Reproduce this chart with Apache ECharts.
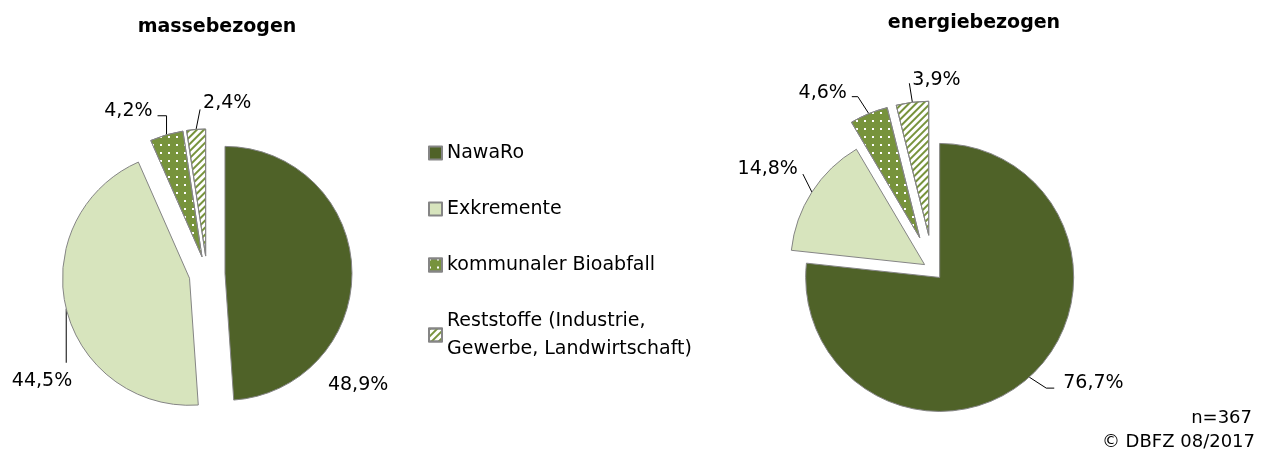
<!DOCTYPE html>
<html>
<head>
<meta charset="utf-8">
<script src="https://cdn.jsdelivr.net/npm/echarts@6/dist/echarts.min.js"></script>
<style>
  html, body { margin: 0; padding: 0; background: #fff; }
  #chart { width: 1271px; height: 453px; }
</style>
</head>
<body>
<div id="chart"></div>
<script>
  const categories = ['NawaRo', 'Exkremente', 'kommunaler Bioabfall', 'Reststoffe (Industrie,\nGewerbe, Landwirtschaft)']
  const masseValues = [48.9, 44.5, 4.2, 2.4]
  const energieValues = [76.7, 14.8, 4.6, 3.9]
  const sampleSize = 367
  const source = '© DBFZ 08/2017'

  const font = 'DejaVu Sans'
  const border = '#858585'
  const sliceStyles = [
    {color: '#4F6228'},
    {color: '#D7E4BD'},
    {color: '#77933C', decal: {symbol: 'rect', symbolSize: 1, color: '#ffffff', dashArrayX: [2, 6], dashArrayY: [2, 6]}},
    {color: '#ffffff', decal: {symbol: 'rect', symbolSize: 1, color: '#77933C', dashArrayX: [1, 0], dashArrayY: [2, 2.5], rotation: -Math.PI / 4}}
  ]

  // leader line (relative to the slice's outer mid point) and label anchor, like Excel placed them
  const masseGuides = [
    {label: [-24, 116], align: 'left'},
    {line: [[0, 0], [0, 54]], label: [6, 72], align: 'right'},
    {line: [[0, 0], [0, -19], [-9, -19]], label: [-14, -24], align: 'right'},
    {line: [[0, 0], [4, -20]], label: [7, -26], align: 'left'}
  ]
  const energieGuides = [
    {line: [[0, 0], [17, 11], [25, 11]], label: [34, 6], align: 'left'},
    {line: [[0, 0], [-9, -18]], label: [-14, -23], align: 'right'},
    {line: [[0, 0], [-11, -17], [-17, -17]], label: [-22, -21], align: 'right'},
    {line: [[0, 0], [-3, -19]], label: [0, -22], align: 'left'}
  ]

  const fmt = p => p.value.toFixed(1).replace('.', ',') + '%'
  const sum = arr => arr.reduce((a, b) => a + b, 0)

  // exploded pie: one series per slice, each pushed out along its own mid angle
  function explodedPie(values, center, radius, offsets, guides) {
    const total = sum(values)
    return values.map((v, i) => {
      const mid = (sum(values.slice(0, i)) + v / 2) / total * 2 * Math.PI
      const ux = Math.sin(mid)
      const uy = -Math.cos(mid)
      const c = [center[0] + ux * offsets[i], center[1] + uy * offsets[i]]
      const ax = c[0] + ux * radius
      const ay = c[1] + uy * radius
      const g = guides[i]
      return {
        type: 'pie',
        center: c,
        radius: radius,
        startAngle: 90,
        clockwise: true,
        avoidLabelOverlap: false,
        animation: false,
        emphasis: {disabled: true},
        label: {formatter: fmt, fontFamily: font, fontSize: 19, color: '#000', overflow: 'none'},
        labelLine: {length: 10, length2: 8, lineStyle: {color: '#000', width: 1}},
        labelLayout: () => {
          const out = {x: ax + g.label[0], y: ay + g.label[1], align: g.align, verticalAlign: 'middle'}
          if (g.line) out.labelLinePoints = g.line.map(p => [ax + p[0], ay + p[1]])
          return out
        },
        itemStyle: {borderColor: border, borderWidth: 1},
        data: values.map((val, j) => j === i
          ? {name: categories[j], value: val, itemStyle: sliceStyles[j], labelLine: {show: !!g.line}}
          : {name: '', value: val, itemStyle: {color: 'transparent', borderWidth: 0},
            label: {show: false}, labelLine: {show: false}, silent: true})
      }
    })
  }

  const chart = echarts.init(document.getElementById('chart'))
  chart.setOption({
    backgroundColor: '#fff',
    title: [
      {text: 'massebezogen', left: 217, top: 18, padding: 0, textAlign: 'center',
        textStyle: {fontFamily: font, fontSize: 19, fontWeight: 'bold', color: '#000'}},
      {text: 'energiebezogen', left: 974, top: 14, padding: 0, textAlign: 'center',
        textStyle: {fontFamily: font, fontSize: 19, fontWeight: 'bold', color: '#000'}},
      {text: 'n=' + sampleSize, right: 19, top: 409, padding: 0,
        textStyle: {fontFamily: font, fontSize: 18, fontWeight: 'normal', color: '#000'}},
      {text: source, right: 16, top: 433, padding: 0,
        textStyle: {fontFamily: font, fontSize: 18, fontWeight: 'normal', color: '#000'}}
    ],
    legend: {
      orient: 'vertical',
      left: 428,
      top: 139,
      padding: 0,
      icon: 'rect',
      itemWidth: 13,
      itemHeight: 13,
      itemGap: 28,
      selectedMode: false,
      textStyle: {fontFamily: font, fontSize: 19, color: '#000', lineHeight: 28},
      data: categories
    },
    series: [
      ...explodedPie(masseValues, [207, 274], 127, [18, 18, 18, 18], masseGuides),
      ...explodedPie(energieValues, [933, 270], 134, [10, 10, 35, 35], energieGuides)
    ]
  })
</script>
</body>
</html>
